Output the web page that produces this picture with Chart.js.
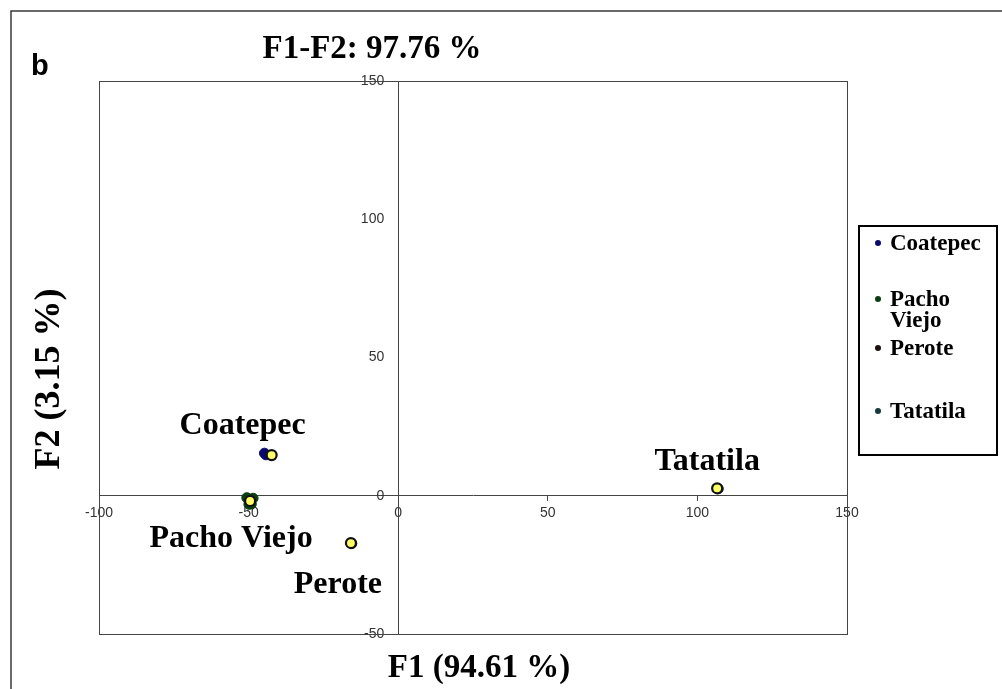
<!DOCTYPE html>
<html>
<head>
<meta charset="utf-8">
<script src="https://cdn.jsdelivr.net/npm/chart.js@4/dist/chart.umd.min.js"></script>
<style>
  html, body { margin: 0; padding: 0; background: #ffffff; }
  #wrap { width: 1002px; height: 689px; position: relative; }
</style>
</head>
<body>
<div id="wrap"><canvas id="pca" width="1002" height="689"></canvas></div>
<script>
// Sites and their centroids on the first two factors
const sites = ['Coatepec', 'Pacho Viejo', 'Perote', 'Tatatila'];
const centroidF1 = [-42.3, -49.5, -15.8, 106.6];
const centroidF2 = [14.7, -1.9, -17.1, 2.7];

// Individual observations per site
const coatepecF1 = [-44.7, -44.2];
const coatepecF2 = [15.4, 14.8];
const pachoViejoF1 = [-50.6, -48.5, -49.9, -49.1];
const pachoViejoF2 = [-0.7, -0.9, -3.1, -3.0];
const peroteF1 = [-15.5];
const peroteF2 = [-17.3];
const tatatilaF1 = [107.0];
const tatatilaF2 = [2.5];

// Axis tick values and titles
const f1Ticks = [-100, -50, 0, 50, 100, 150];
const f2Ticks = [-50, 0, 50, 100, 150];
const chartTitle = 'F1-F2: 97.76 %';
const f1Title = 'F1 (94.61 %)';
const f2Title = 'F2 (3.15 %)';
const panelLetter = 'b';

// Styling
const siteColors = ['#0a0a6e', '#0b3d12', '#1a1010', '#143a3a'];
const serif = '"Liberation Serif", "Times New Roman", serif';
const sans = '"Liberation Sans", Arial, sans-serif';
// label placement relative to each centroid (px): [dx, dy to baseline]
const labelOffsets = [[-29, -21], [-19, 46], [-13, 50], [-10, -18]];

function pts(xs, ys) { return xs.map((x, i) => ({ x: x, y: ys[i] })); }

const obsSets = [
  pts(coatepecF1, coatepecF2),
  pts(pachoViejoF1, pachoViejoF2),
  pts(peroteF1, peroteF2),
  pts(tatatilaF1, tatatilaF2)
];

const datasets = sites.map((s, i) => ({
  label: s,
  data: obsSets[i],
  pointRadius: 5,
  pointBorderWidth: 1,
  pointBackgroundColor: siteColors[i],
  pointBorderColor: siteColors[i],
  showLine: false,
  order: 2
}));
datasets.push({
  label: 'Centroids',
  data: pts(centroidF1, centroidF2),
  pointRadius: 5,
  pointBorderWidth: 2.2,
  pointBackgroundColor: '#ffff66',
  pointBorderColor: '#111111',
  showLine: false,
  order: 1
});

const decorations = {
  id: 'decorations',
  beforeDatasetsDraw(chart) {
    const ctx = chart.ctx;
    const a = chart.chartArea;
    ctx.save();
    // outer panel frame
    ctx.strokeStyle = '#3a3a3a';
    ctx.lineWidth = 1.5;
    ctx.beginPath();
    ctx.moveTo(11, 700);
    ctx.lineTo(11, 11);
    ctx.lineTo(1010, 11);
    ctx.stroke();
    // plot frame
    ctx.strokeStyle = '#444444';
    ctx.lineWidth = 1;
    ctx.strokeRect(Math.round(a.left) + 0.5, Math.round(a.top) + 0.5,
                   Math.round(a.right - a.left), Math.round(a.bottom - a.top));
    ctx.restore();
  },
  afterDraw(chart) {
    const ctx = chart.ctx;
    const xs = chart.scales.x, ys = chart.scales.y;
    ctx.save();
    ctx.fillStyle = '#000000';
    // panel letter
    ctx.font = 'bold 29px ' + sans;
    ctx.textAlign = 'left';
    ctx.textBaseline = 'alphabetic';
    ctx.fillText(panelLetter, 31, 75);
    // chart title
    ctx.font = 'bold 33px ' + serif;
    ctx.textAlign = 'center';
    ctx.fillText(chartTitle, 372, 58);
    // axis titles
    ctx.fillText(f1Title, 479, 677);
    ctx.save();
    ctx.font = 'bold 36px ' + serif;
    ctx.translate(59, 379);
    ctx.rotate(-Math.PI / 2);
    ctx.fillText(f2Title, 0, 0);
    ctx.restore();
    // site labels beside centroids
    ctx.font = 'bold 32px ' + serif;
    sites.forEach((s, i) => {
      const px = xs.getPixelForValue(centroidF1[i]);
      const py = ys.getPixelForValue(centroidF2[i]);
      ctx.fillText(s, px + labelOffsets[i][0], py + labelOffsets[i][1]);
    });
    // legend box
    ctx.strokeStyle = '#000000';
    ctx.lineWidth = 2;
    ctx.strokeRect(859, 226, 138, 229);
    const lines = [
      { t: 'Coatepec', y: 243, c: siteColors[0], dot: true },
      { t: 'Pacho', y: 299, c: siteColors[1], dot: true },
      { t: 'Viejo', y: 320, dot: false },
      { t: 'Perote', y: 348, c: siteColors[2], dot: true },
      { t: 'Tatatila', y: 411, c: siteColors[3], dot: true }
    ];
    ctx.font = 'bold 23px ' + serif;
    ctx.textAlign = 'left';
    ctx.textBaseline = 'middle';
    lines.forEach(l => {
      if (l.dot) {
        ctx.fillStyle = l.c;
        ctx.beginPath();
        ctx.arc(878, l.y, 3, 0, Math.PI * 2);
        ctx.fill();
      }
      ctx.fillStyle = '#000000';
      ctx.fillText(l.t, 890, l.y + 1);
    });
    ctx.restore();
  }
};

new Chart(document.getElementById('pca'), {
  type: 'scatter',
  data: { datasets: datasets },
  options: {
    responsive: false,
    animation: false,
    events: [],
    layout: { padding: { left: 99, right: 155, top: 81, bottom: 55 } },
    plugins: { legend: { display: false }, title: { display: false }, tooltip: { enabled: false } },
    scales: {
      x: {
        type: 'linear',
        min: f1Ticks[0],
        max: f1Ticks[f1Ticks.length - 1],
        position: { y: 0 },
        afterFit(s) { s.height = 0; },
        afterBuildTicks(s) { s.ticks = f1Ticks.map(v => ({ value: v })); },
        grid: { display: true, drawOnChartArea: false, drawTicks: true, tickLength: 5, color: '#444444' },
        border: { display: true, color: '#444444', width: 1 },
        ticks: { font: { family: sans, size: 14 }, color: '#333333', padding: 4, maxRotation: 0 }
      },
      y: {
        type: 'linear',
        min: f2Ticks[0],
        max: f2Ticks[f2Ticks.length - 1],
        position: { x: 0 },
        afterFit(s) { s.width = 0; },
        afterBuildTicks(s) { s.ticks = f2Ticks.map(v => ({ value: v })); },
        grid: { display: false },
        border: { display: true, color: '#444444', width: 1 },
        ticks: {
          font: { family: sans, size: 14 }, color: '#333333',
          // keep the labels clear of the vertical axis line
          callback: v => v + '\u2002\u2002'
        }
      }
    }
  },
  plugins: [decorations]
});
</script>
</body>
</html>
